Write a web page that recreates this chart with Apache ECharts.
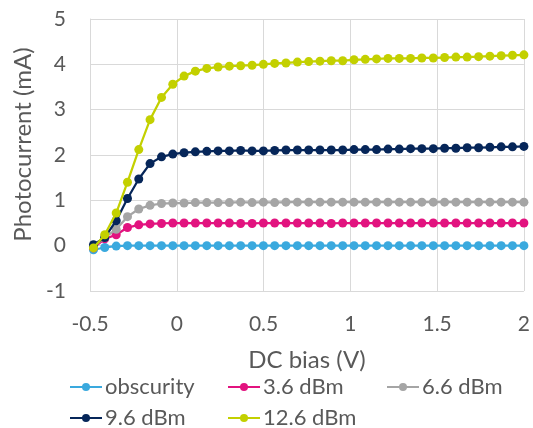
<!DOCTYPE html>
<html>
<head>
<meta charset="utf-8">
<script src="https://cdn.jsdelivr.net/npm/echarts@6/dist/echarts.min.js"></script>
<style>html,body{margin:0;padding:0;background:#fff}#c{width:533px;height:428px}</style>
</head>
<body>
<div id="c"></div>
<script>
const biasV = [-0.480,-0.415,-0.349,-0.284,-0.219,-0.154,-0.088,-0.023,0.042,0.107,0.173,0.238,0.303,0.368,0.434,0.499,0.564,0.629,0.695,0.760,0.825,0.890,0.956,1.021,1.086,1.151,1.217,1.282,1.347,1.412,1.478,1.543,1.608,1.673,1.739,1.804,1.869,1.934,2.000];
const seriesNames = ['obscurity','3.6 dBm','6.6 dBm','9.6 dBm','12.6 dBm'];
const obscurity = [-0.09,-0.04,-0.01,0,0,0,0,0,0,0,0,0,0,0,0,0,0,0,0,0,0,0,0,0,0,0,0,0,0,0,0,0,0,0,0,0,0,0,0];
const dBm3_6 = [-0.05,0.15,0.24,0.40,0.46,0.48,0.49,0.50,0.50,0.50,0.50,0.50,0.50,0.49,0.49,0.50,0.50,0.50,0.50,0.50,0.50,0.49,0.50,0.50,0.50,0.50,0.50,0.50,0.50,0.50,0.50,0.50,0.50,0.50,0.50,0.50,0.50,0.50,0.50];
const dBm6_6 = [-0.02,0.18,0.36,0.64,0.81,0.89,0.93,0.94,0.94,0.95,0.95,0.95,0.95,0.96,0.95,0.96,0.95,0.96,0.96,0.96,0.96,0.96,0.96,0.96,0.96,0.96,0.96,0.96,0.96,0.96,0.96,0.96,0.96,0.96,0.96,0.96,0.96,0.96,0.96];
const dBm9_6 = [0.02,0.18,0.55,1.04,1.47,1.81,1.96,2.02,2.05,2.07,2.08,2.09,2.09,2.10,2.09,2.09,2.10,2.11,2.11,2.11,2.11,2.11,2.11,2.12,2.12,2.12,2.13,2.13,2.14,2.14,2.14,2.15,2.15,2.16,2.16,2.17,2.18,2.18,2.19];
const dBm12_6 = [-0.05,0.24,0.72,1.40,2.12,2.78,3.27,3.56,3.74,3.85,3.91,3.94,3.96,3.97,3.98,4.00,4.02,4.03,4.05,4.06,4.07,4.08,4.08,4.10,4.11,4.12,4.13,4.13,4.13,4.14,4.14,4.15,4.16,4.16,4.17,4.18,4.19,4.20,4.21];
const colors = ['#3AA9DE','#E2137F','#A5A5A5','#062659','#C3D000'];
const allValues = [obscurity,dBm3_6,dBm6_6,dBm9_6,dBm12_6];

const FONT = 'Lato';
const TXT = '#595959';
const chart = echarts.init(document.getElementById('c'));
const legendSpots = [[69,376],[227,376],[386,376],[69,407],[227,407]];
const legends = seriesNames.map((n,i)=>({
  left: legendSpots[i][0], top: legendSpots[i][1], padding:0,
  itemWidth:32, itemHeight:10, selectedMode:false,
  textStyle:{fontFamily:FONT, fontSize:22, color:TXT, padding:[0,0,0,-2]},
  data:[n]
}));
chart.setOption({
  animation:false,
  color: colors,
  grid:{left:90, right:4, top:19, bottom:137},
  xAxis:{type:'value', min:-0.5, max:2, interval:0.5,
    name:'DC bias (V)', nameLocation:'middle', nameGap:57,
    nameTextStyle:{fontFamily:FONT, fontSize:24, color:TXT},
    axisLine:{show:false, onZero:false}, axisTick:{show:false},
    axisLabel:{fontFamily:FONT, fontSize:21, color:TXT, margin:23},
    splitLine:{show:true, lineStyle:{color:'#D9D9D9', width:1}}},
  yAxis:{type:'value', min:-1, max:5, interval:1,
    name:'Photocurrent (mA)', nameLocation:'middle', nameGap:44,
    nameTextStyle:{fontFamily:FONT, fontSize:24, color:TXT, padding:[0,0,0,21]},
    axisLine:{show:true, onZero:false, lineStyle:{color:'#D9D9D9'}}, axisTick:{show:false},
    axisLabel:{fontFamily:FONT, fontSize:21, color:TXT, margin:24},
    splitLine:{show:true, lineStyle:{color:'#D9D9D9', width:1}}},
  legend: legends,
  series: seriesNames.map((n,i)=>({
    name:n, type:'line', data: biasV.map((x,j)=>[x, allValues[i][j]]),
    symbol:'circle', symbolSize:9, showSymbol:true,
    lineStyle:{width:2.25, color:colors[i]}, itemStyle:{color:colors[i]},
    z: 2+i
  }))
});
</script>
</body>
</html>
